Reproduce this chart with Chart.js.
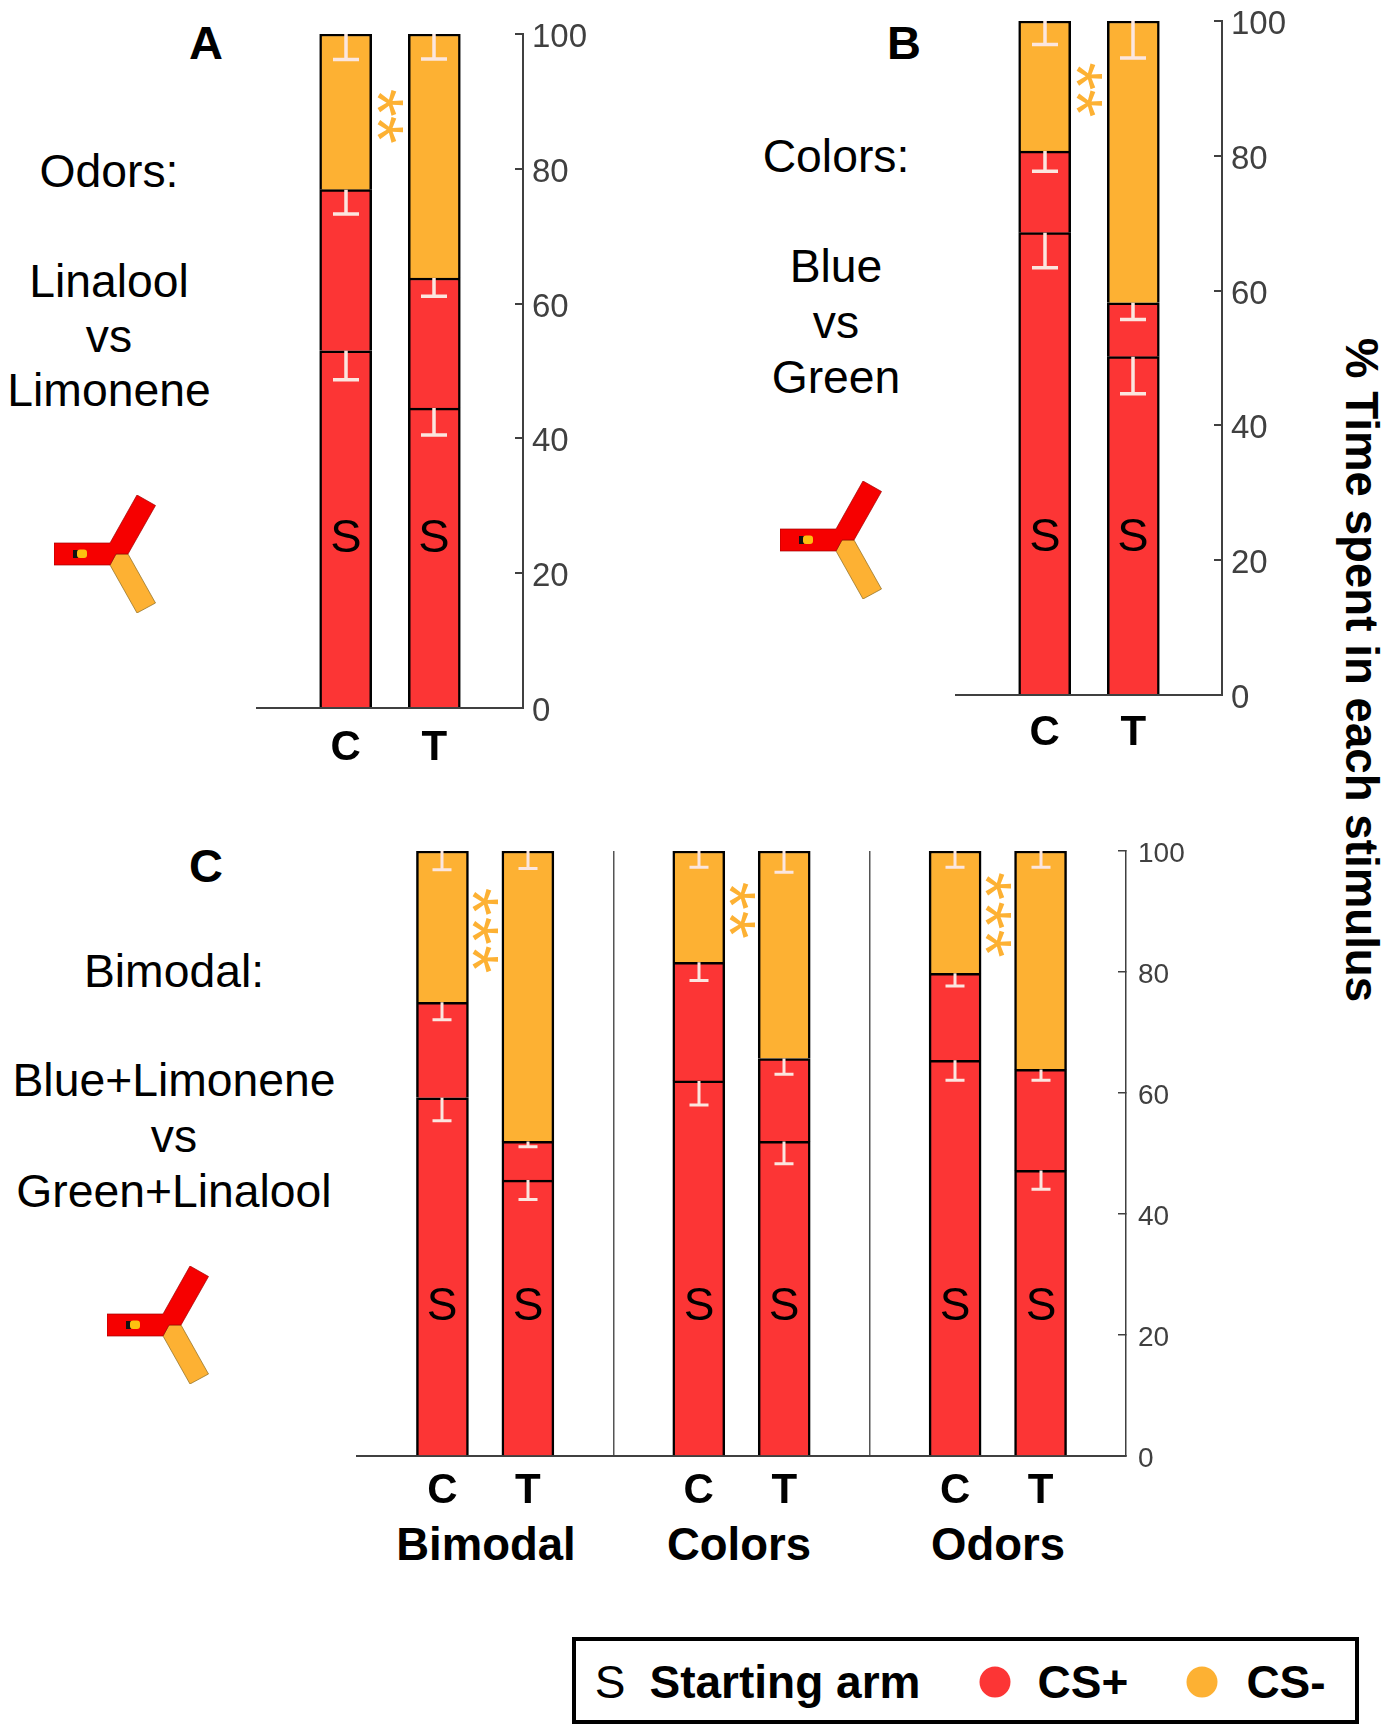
<!DOCTYPE html>
<html>
<head>
<meta charset="utf-8">
<title>Time spent in each stimulus</title>
<script src="https://cdn.jsdelivr.net/npm/chart.js@4"></script>
<style>
    html, body { margin: 0; background: #fff; }
    #page { position: relative; width: 1390px; height: 1733px; overflow: hidden; font-family: "Liberation Sans", Arial, sans-serif; color: #000; }
    #page canvas { position: absolute; }
    .txt { position: absolute; transform: translate(-50%, -50%); white-space: nowrap; font-size: 46.3px; line-height: 1; }
    .bold { font-weight: bold; }
    .letter { font-size: 47px; font-weight: bold; }
    .group { font-size: 45.5px; font-weight: bold; }
    #ytitle { position: absolute; left: 1361px; top: 670px; transform: translate(-50%, -50%) rotate(90deg); white-space: nowrap; font-size: 45.7px; font-weight: bold; line-height: 1; }
    #legend { position: absolute; left: 572px; top: 1637px; width: 787px; height: 87px; box-sizing: border-box; border: 4px solid #000; }
    #legend .txt { font-size: 46px; }
    .dot { position: absolute; width: 31px; height: 31px; border-radius: 50%; transform: translate(-50%, -50%); }
    .maze { position: absolute; width: 102px; height: 118px; }
</style>
</head>
<body>
<div id="page">
    <canvas id="chart-a"></canvas>
    <canvas id="chart-b"></canvas>
    <canvas id="chart-c"></canvas>

    <div class="txt letter" style="left:206px;top:42px">A</div>
    <div class="txt" style="left:109px;top:171px">Odors:</div>
    <div class="txt" style="left:109px;top:281px">Linalool</div>
    <div class="txt" style="left:109px;top:336px">vs</div>
    <div class="txt" style="left:109px;top:390px">Limonene</div>

    <div class="txt letter" style="left:904px;top:42px">B</div>
    <div class="txt" style="left:836px;top:156px">Colors:</div>
    <div class="txt" style="left:836px;top:266px">Blue</div>
    <div class="txt" style="left:836px;top:322px">vs</div>
    <div class="txt" style="left:836px;top:377px">Green</div>

    <div class="txt letter" style="left:206px;top:865px">C</div>
    <div class="txt" style="left:174px;top:971px">Bimodal:</div>
    <div class="txt" style="left:174px;top:1080px">Blue+Limonene</div>
    <div class="txt" style="left:174px;top:1136px">vs</div>
    <div class="txt" style="left:174px;top:1191px">Green+Linalool</div>

    <div class="txt group" style="left:486px;top:1545px">Bimodal</div>
    <div class="txt group" style="left:739px;top:1545px">Colors</div>
    <div class="txt group" style="left:998px;top:1545px">Odors</div>

    <div id="ytitle">% Time spent in each stimulus</div>

    <svg class="maze" style="left:54px;top:495px" viewBox="0 0 102 118"><use href="#maze-shape"/></svg>
    <svg class="maze" style="left:780px;top:481px" viewBox="0 0 102 118"><use href="#maze-shape"/></svg>
    <svg class="maze" style="left:107px;top:1266px" viewBox="0 0 102 118"><use href="#maze-shape"/></svg>
    <svg width="0" height="0" style="position:absolute">
        <defs>
            <g id="maze-shape" stroke-width="0.7">
                <polygon points="56,70 62,59 74,59 101.5,108 83,118" fill="#fdb133" stroke="#8a6a20"/>
                <polygon points="0,48 56,48 83,0 101.5,10.5 74,59 62,59 56,70 0,70" fill="#f60000" stroke="#a00000"/>
                <rect x="19" y="55" width="5" height="8" fill="#111"/>
                <rect x="23" y="54.5" width="10" height="8.5" rx="3" fill="#fdc010"/>
            </g>
        </defs>
    </svg>

    <div id="legend">
        <div class="txt" style="left:34px;top:41px">S</div>
        <div class="txt bold" style="left:209px;top:41px">Starting arm</div>
        <div class="dot" style="left:419px;top:41px;background:#fc3535"></div>
        <div class="txt bold" style="left:507px;top:41px">CS+</div>
        <div class="dot" style="left:626px;top:41px;background:#fdb133"></div>
        <div class="txt bold" style="left:710px;top:41px">CS-</div>
    </div>
</div>

<script>
const yTicks = [0, 20, 40, 60, 80, 100];

// panel A, odors
const categoriesA = ['', 'C', 'T', ''];
const startA = [53.0, 44.5];
const csPlusA = [23.9, 19.3];
const csMinusA = [23.1, 36.2];
const errStartA = [4.3, 4.0];
const errPlusA = [3.6, 2.7];
const errMinusA = [3.8, 3.7];
const starSlotsA = [1.5];
const starValuesA = [[89.8, 85.8]];

// panel B, colors
const categoriesB = ['', 'C', 'T', ''];
const startB = [68.6, 50.2];
const csPlusB = [12.1, 8.0];
const csMinusB = [19.3, 41.8];
const errStartB = [5.2, 5.5];
const errPlusB = [3.0, 2.5];
const errMinusB = [3.5, 5.5];
const starSlotsB = [1.5];
const starValuesB = [[91.8, 87.8]];

// panel C, bimodal / colors / odors
const categoriesC = ['', 'C', 'T', '', 'C', 'T', '', 'C', 'T', ''];
const startC = [59.2, 45.6, 62.0, 52.0, 65.4, 47.2];
const csPlusC = [15.8, 6.4, 19.6, 13.7, 14.4, 16.7];
const csMinusC = [25.0, 48.0, 18.4, 34.3, 20.2, 36.1];
const errStartC = [3.8, 3.2, 4.0, 3.7, 3.3, 3.1];
const errPlusC = [2.9, 0.9, 3.0, 2.6, 2.1, 1.8];
const errMinusC = [3.1, 2.9, 2.7, 3.5, 2.7, 2.7];
const starSlotsC = [1.5, 4.5, 7.5];
const starValuesC = [[91.6, 86.8, 82.1], [92.6, 87.8], [94.2, 89.4, 84.7]];

const RED = '#fc3535';
const ORANGE = '#fdb133';
const AXIS = '#404040';

Chart.defaults.font.family = '"Liberation Sans", Arial, sans-serif';
Chart.defaults.animation = false;

// blanks in the category list are spacers, they get no bar
function spread(labels, values) {
    let i = 0;
    return labels.map(l => (l === '' ? null : values[i++]));
}

// white error caps, orange stars and the S letters, all placed through the scales
const marksPlugin = {
    id: 'marks',
    afterDatasetsDraw(chart, args, o) {
        const ctx = chart.ctx;
        const x = chart.scales.x;
        const y = chart.scales.y;
        const slots = [];
        o.labels.forEach((l, i) => { if (l !== '') slots.push(i); });

        ctx.save();
        ctx.strokeStyle = '#fbe6df';
        ctx.lineWidth = o.capLine;
        slots.forEach((slot, i) => {
            const px = Math.round(x.getPixelForValue(slot));
            const tops = [o.start[i], o.start[i] + o.plus[i], o.start[i] + o.plus[i] + o.minus[i]];
            const errs = [o.errStart[i], o.errPlus[i], o.errMinus[i]];
            tops.forEach((top, k) => {
                const y1 = y.getPixelForValue(top);
                const y2 = y.getPixelForValue(top - errs[k]);
                ctx.beginPath();
                ctx.moveTo(px, y1);
                ctx.lineTo(px, y2);
                ctx.moveTo(px - o.capWidth / 2, y2);
                ctx.lineTo(px + o.capWidth / 2, y2);
                ctx.stroke();
            });
            ctx.fillStyle = '#000';
            ctx.textAlign = 'center';
            ctx.textBaseline = 'middle';
            ctx.font = o.sFont + 'px "Liberation Sans"';
            ctx.fillText('S', px, y.getPixelForValue(o.sValue));
        });

        ctx.fillStyle = ORANGE;
        ctx.font = '72px "Liberation Sans"';
        ctx.textAlign = 'left';
        ctx.textBaseline = 'alphabetic';
        o.starSlots.forEach((slot, i) => {
            o.starValues[i].forEach(v => {
                const m = ctx.measureText('*');
                ctx.save();
                ctx.translate(x.getPixelForValue(slot), y.getPixelForValue(v));
                ctx.rotate(Math.PI / 2);
                ctx.fillText('*', -(m.actualBoundingBoxRight - m.actualBoundingBoxLeft) / 2,
                    (m.actualBoundingBoxAscent - m.actualBoundingBoxDescent) / 2);
                ctx.restore();
            });
        });
        ctx.restore();
    }
};

function drawPanel(id, box, cfg) {
    const canvas = document.getElementById(id);
    const rightRoom = 80;
    const bottomRoom = 60;
    const pad = 20;
    canvas.width = box.right - box.left + pad + rightRoom;
    canvas.height = box.bottom - box.top + pad + bottomRoom;
    canvas.style.left = (box.left - pad) + 'px';
    canvas.style.top = (box.top - pad) + 'px';
    canvas.style.width = canvas.width + 'px';
    canvas.style.height = canvas.height + 'px';

    const dividers = cfg.dividers || [];
    const bar = { barThickness: cfg.barWidth, borderColor: '#000', borderWidth: cfg.barBorder };

    new Chart(canvas, {
        type: 'bar',
        data: {
            labels: cfg.labels,
            datasets: [
                { label: 'Starting arm', data: spread(cfg.labels, cfg.start), backgroundColor: RED, ...bar },
                { label: 'CS+', data: spread(cfg.labels, cfg.plus), backgroundColor: RED, ...bar },
                { label: 'CS-', data: spread(cfg.labels, cfg.minus), backgroundColor: ORANGE, ...bar },
            ],
        },
        options: {
            responsive: false,
            layout: { padding: { left: pad, top: pad, right: 0, bottom: 0 } },
            plugins: {
                legend: { display: false },
                tooltip: { enabled: false },
                marks: cfg,
            },
            scales: {
                x: {
                    stacked: true,
                    offset: false,
                    afterFit: s => { s.height = bottomRoom; s.paddingLeft = 0; s.paddingRight = 0; },
                    border: { color: AXIS, width: 2 },
                    grid: {
                        offset: false,
                        drawTicks: false,
                        lineWidth: 1.5,
                        color: c => (dividers.includes(c.index) ? '#555' : 'rgba(0,0,0,0)'),
                    },
                    ticks: {
                        autoSkip: false,
                        maxRotation: 0,
                        padding: cfg.xPadding,
                        color: '#000',
                        font: { size: cfg.xFont, weight: 'bold' },
                    },
                },
                y: {
                    position: 'right',
                    stacked: true,
                    min: 0,
                    max: 100,
                    afterFit: s => { s.width = rightRoom; s.paddingTop = 0; s.paddingBottom = 0; },
                    afterBuildTicks: s => { s.ticks = yTicks.map(v => ({ value: v })); },
                    border: { color: AXIS, width: cfg.axisLine },
                    grid: {
                        drawOnChartArea: false,
                        tickLength: -8,
                        tickWidth: cfg.axisLine,
                        tickColor: AXIS,
                        lineWidth: cfg.axisLine,
                    },
                    ticks: {
                        padding: cfg.yPadding,
                        labelOffset: cfg.yShift,
                        color: AXIS,
                        font: { size: cfg.yFont },
                    },
                },
            },
        },
        plugins: [marksPlugin],
    });
}

drawPanel('chart-a', { left: 257, right: 523, top: 34, bottom: 708 }, {
    labels: categoriesA, start: startA, plus: csPlusA, minus: csMinusA,
    errStart: errStartA, errPlus: errPlusA, errMinus: errMinusA,
    starSlots: starSlotsA, starValues: starValuesA,
    barWidth: 52, barBorder: 2.5, capWidth: 26, capLine: 3.5, sFont: 47, sValue: 25.1,
    xFont: 42, xPadding: 15, yFont: 33, yPadding: 17, yShift: 4, axisLine: 2,
});

drawPanel('chart-b', { left: 956, right: 1222, top: 21, bottom: 695 }, {
    labels: categoriesB, start: startB, plus: csPlusB, minus: csMinusB,
    errStart: errStartB, errPlus: errPlusB, errMinus: errMinusB,
    starSlots: starSlotsB, starValues: starValuesB,
    barWidth: 52, barBorder: 2.5, capWidth: 26, capLine: 3.5, sFont: 47, sValue: 23.3,
    xFont: 42, xPadding: 13, yFont: 33, yPadding: 17, yShift: 4, axisLine: 2,
});

drawPanel('chart-c', { left: 357, right: 1126, top: 851, bottom: 1456 }, {
    labels: categoriesC, start: startC, plus: csPlusC, minus: csMinusC,
    errStart: errStartC, errPlus: errPlusC, errMinus: errMinusC,
    starSlots: starSlotsC, starValues: starValuesC,
    dividers: [3, 6],
    barWidth: 52, barBorder: 2.5, capWidth: 19, capLine: 3, sFont: 46, sValue: 24.6,
    xFont: 42, xPadding: 10, yFont: 28, yPadding: 20, yShift: 3, axisLine: 1.5,
});
</script>
</body>
</html>
